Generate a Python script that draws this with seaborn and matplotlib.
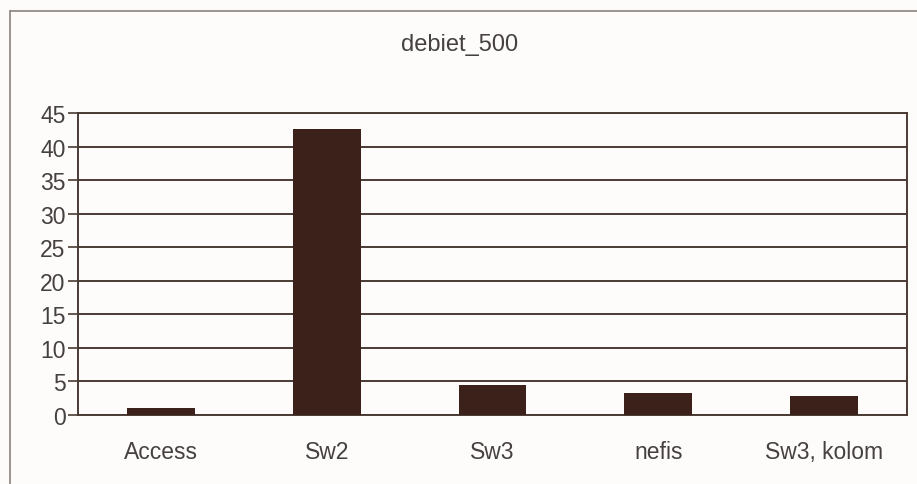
import matplotlib
matplotlib.use("Agg")
import matplotlib.pyplot as plt
from matplotlib.lines import Line2D
from matplotlib.ticker import MultipleLocator, FixedLocator
import seaborn as sns
import pandas as pd

categories = ["Access", "Sw2", "Sw3", "nefis", "Sw3, kolom"]
values = [1.1, 42.6, 4.5, 3.3, 2.8]
title = "debiet_500"

sns.set_style("white")
plt.rcParams["font.family"] = ["Liberation Sans", "DejaVu Sans"]

bar_color = "#3b2119"
line_color = "#4a3b33"
text_color = "#464140"
bg = "#fdfcfa"

df = pd.DataFrame({"cat": categories, "val": values})

fig = plt.figure(figsize=(9.17, 4.85), dpi=100, facecolor=bg)
ax = fig.add_axes([78 / 917, 69 / 485, 829 / 917, 302 / 485])
ax.set_facecolor(bg)

sns.barplot(data=df, x="cat", y="val", color=bar_color, width=0.41,
            saturation=1, edgecolor=bar_color, linewidth=0, ax=ax, zorder=3)

ax.set_ylim(0, 45)
ax.set_xlim(-0.5, len(categories) - 0.5)
ax.yaxis.set_major_locator(MultipleLocator(5))
ax.yaxis.grid(True, color=line_color, linewidth=1.4, zorder=0)
ax.set_axisbelow(True)

for side in ["left", "right", "top", "bottom"]:
    ax.spines[side].set_visible(True)
    ax.spines[side].set_color(line_color)
    ax.spines[side].set_linewidth(1.4)

ax.xaxis.set_minor_locator(FixedLocator([i - 0.5 for i in range(len(categories) + 1)]))
ax.tick_params(axis="x", which="major", length=0, pad=18, labelsize=16.5, labelcolor=text_color)
ax.tick_params(axis="x", which="minor", direction="out", length=6, width=1.2, color=line_color)
ax.tick_params(axis="y", which="major", direction="out", length=7, width=1.2, color=line_color,
               labelsize=16.5, labelcolor=text_color, pad=2, left=True)

ax.set_xlabel("")
ax.set_ylabel("")

fig.text(460 / 917, 1 - 45 / 485, title, ha="center", va="center",
         fontsize=17, color=text_color)

# outer chart frame
frame_color = "#8c8480"
fig.add_artist(Line2D([10 / 917, 10 / 917], [0, 1 - 12 / 485], transform=fig.transFigure,
                      color=frame_color, linewidth=1.2))
fig.add_artist(Line2D([10 / 917, 1], [1 - 12 / 485, 1 - 12 / 485], transform=fig.transFigure,
                      color=frame_color, linewidth=1.2))

fig.savefig("out.png", dpi=100, facecolor=bg)
